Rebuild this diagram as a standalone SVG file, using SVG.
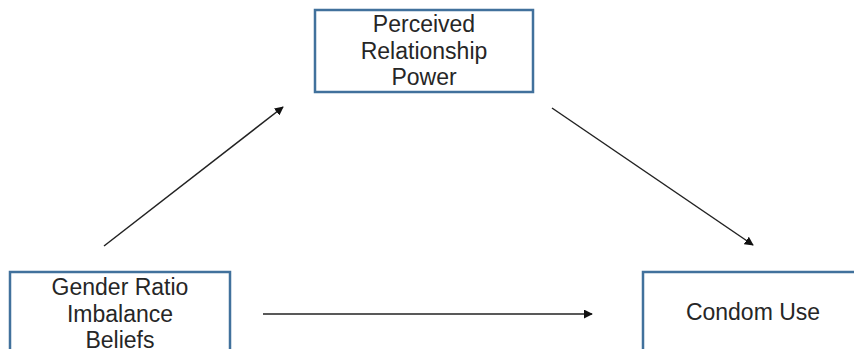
<svg xmlns="http://www.w3.org/2000/svg" width="854" height="349" viewBox="0 0 854 349">
<style>
.box{fill:#fff;stroke:#41719C;stroke-width:2.5}
.lbl{font-family:"Liberation Sans",Arial,sans-serif;font-size:23px;fill:#262626;text-anchor:middle}
.conn{stroke:#222;stroke-width:1.5;fill:none;marker-end:url(#ah)}
</style>
<defs>
<marker id="ah" viewBox="0 0 10 10" refX="9" refY="5" markerWidth="6" markerHeight="6" orient="auto" markerUnits="strokeWidth">
<path d="M0,0 L10,5 L0,10 z" fill="#111"/>
</marker>
</defs>
<rect width="854" height="349" fill="#fff"/>
<g id="power">
<rect class="box" x="315" y="10" width="218" height="82"/>
<text class="lbl" x="424" y="32">Perceived</text>
<text class="lbl" x="424" y="58.5">Relationship</text>
<text class="lbl" x="424" y="85">Power</text>
</g>
<g id="gender">
<rect class="box" x="10" y="272" width="220" height="100"/>
<text class="lbl" x="120" y="295">Gender Ratio</text>
<text class="lbl" x="120" y="321.5">Imbalance</text>
<text class="lbl" x="120" y="348">Beliefs</text>
</g>
<g id="condom">
<rect class="box" x="643" y="272" width="230" height="100"/>
<text class="lbl" x="753" y="320">Condom Use</text>
</g>
<g id="connectors">
<line class="conn" x1="104" y1="246" x2="283" y2="107"/>
<line class="conn" x1="552" y1="108" x2="753" y2="245"/>
<line class="conn" x1="263" y1="314" x2="592" y2="314"/>
</g>
</svg>
